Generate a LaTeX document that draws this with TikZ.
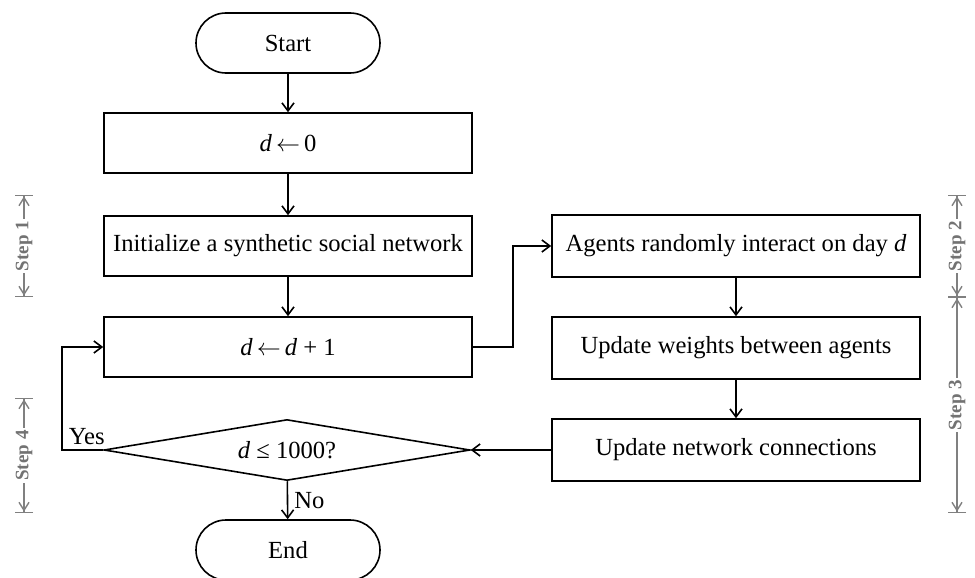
\documentclass[tikz,border=0pt]{standalone}
\usepackage{fontspec}
\setmainfont{Liberation Serif}
\usepackage{tikz}
\usetikzlibrary{arrows.meta, shapes.geometric}

\begin{document}
\begin{tikzpicture}[x=0.5pt, y=-0.5pt, line width=0.8pt, ->, >={Straight Barb[length=4pt,width=6pt]},
  font=\fontsize{12.3}{14}\selectfont, align=center,
  box/.style={rectangle, draw, minimum width=184pt, minimum height=30pt, inner sep=2pt},
  terminal/.style={rectangle, draw, rounded corners=15pt, minimum width=92pt, minimum height=30pt},
  decision/.style={diamond, draw, aspect=6, inner sep=1pt, minimum width=183pt, minimum height=30.5pt},
  stepline/.style={draw=gray, line width=0.7pt, {Bar[width=9pt]Straight Barb[length=4pt,width=5pt]}-{Straight Barb[length=4pt,width=5pt]Bar[width=9pt]}},
  steplabel/.style={fill=white, text=black!55, rotate=90, inner sep=1pt, font=\fontsize{9.5}{10}\selectfont\bfseries}]
\useasboundingbox (0,0) rectangle (975,578);
% main column
\node[terminal] at (288,43) (start) {Start};
\node[box] at (288,143) (init0) {\textit{d}\,$\leftarrow$\,0};
\node[box] at (288,246) (init) {Initialize a synthetic social network};
\node[box] at (288,347) (inc) {\textit{d}\,$\leftarrow$\,\textit{d} + 1};
\node[decision] at (287,450) (check) {\textit{d} ≤ 1000?};
\node[terminal] at (288,550) (stop) {End};
% right column
\node[box, minimum height=31pt] at (736,246) (agents) {Agents randomly interact on day \textit{d}};
\node[box, minimum height=31pt] at (736,348) (weights) {Update weights between agents};
\node[box, minimum height=31pt] at (736,450) (conn) {Update network connections};
% connectors
\draw (start) -- (init0);
\draw (init0) -- (init);
\draw (init) -- (inc);
\draw (inc.east) -- ++(40,0) |- (agents.west);
\draw (agents) -- (weights);
\draw (weights) -- (conn);
\draw (conn) -- (check);
\draw (check.west) -- node[above, pos=0.4, inner sep=2pt]{Yes} ++(-41,0) |- (inc.west);
\draw (check) -- node[right, inner sep=3pt]{No} (stop);
% step brackets
\coordinate (s1a) at (24,195);
\coordinate (s1b) at (24,297);
\coordinate (s4a) at (24,398);
\coordinate (s4b) at (24,513);
\coordinate (s2a) at (957,195);
\coordinate (s2b) at (957,297);
\coordinate (s3b) at (957,513);
\draw[stepline] (s1b) -- node[steplabel]{Step 1} (s1a);
\draw[stepline] (s4b) -- node[steplabel]{Step 4} (s4a);
\draw[stepline] (s2b) -- node[steplabel]{Step 2} (s2a);
\draw[stepline] (s3b) -- node[steplabel]{Step 3} (s2b);
\end{tikzpicture}
\end{document}
